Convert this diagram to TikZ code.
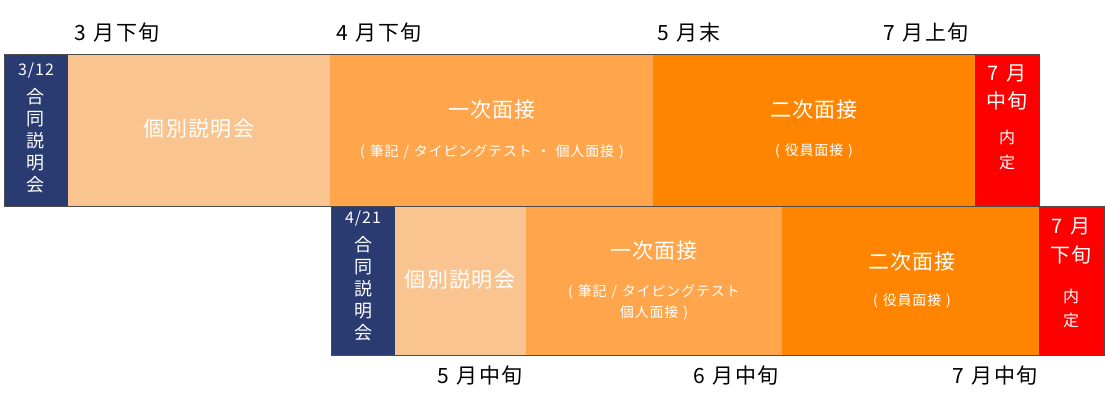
\documentclass[tikz,border=0pt]{standalone}
\usepackage{fontspec}
\setmainfont[LetterSpace=6]{Noto Sans CJK JP}
\definecolor{navy}{HTML}{293B70}
\definecolor{peach}{HTML}{F9C48F}
\definecolor{lorange}{HTML}{FFA54C}
\definecolor{dorange}{HTML}{FF8500}
\definecolor{redc}{HTML}{FF0000}
\newcommand{\gap}{\hspace{0.35em}}
\tikzset{
  blk/.style={anchor=north west, inner sep=0pt, outer sep=0pt},
  wt/.style={text=white, inner sep=0pt, align=center},
  lbl/.style={text=black, inner sep=0pt, font=\fontsize{21}{24}\selectfont},
  big/.style={wt, font=\fontsize{21}{25}\selectfont},
  sub/.style={wt, font=\fontsize{14}{21}\selectfont},
  vert/.style={wt, font=\fontsize{18}{22}\selectfont},
  date/.style={wt, font=\fontsize{16}{18}\selectfont},
  frame/.style={draw=black!70, line width=0.8pt}
}
\begin{document}
\begin{tikzpicture}[x=1pt,y=-1pt]
\useasboundingbox (0,0) rectangle (1108,406);
% top row blocks
\node[blk, fill=navy,    minimum width=64pt,  minimum height=152pt] (a1) at (4,54) {};
\node[blk, fill=peach,   minimum width=262pt, minimum height=152pt] (a2) at (68,54) {};
\node[blk, fill=lorange, minimum width=323pt, minimum height=152pt] (a3) at (330,54) {};
\node[blk, fill=dorange, minimum width=322pt, minimum height=152pt] (a4) at (653,54) {};
\node[blk, fill=redc,    minimum width=64pt,  minimum height=152pt] (a5) at (975,54) {};
\node[frame, blk, minimum width=1035pt, minimum height=152pt] (af) at (4,54) {};
% bottom row blocks
\node[blk, fill=navy,    minimum width=64pt,  minimum height=149pt] (b1) at (331,206) {};
\node[blk, fill=peach,   minimum width=131pt, minimum height=149pt] (b2) at (395,206) {};
\node[blk, fill=lorange, minimum width=256pt, minimum height=149pt] (b3) at (526,206) {};
\node[blk, fill=dorange, minimum width=257pt, minimum height=149pt] (b4) at (782,206) {};
\node[blk, fill=redc,    minimum width=65pt,  minimum height=149pt] (b5) at (1039,206) {};
\node[frame, blk, minimum width=773pt, minimum height=149pt] (bf) at (331,206) {};
% top labels
\node[lbl] (t1) at (117,33) {3\gap 月下旬};
\node[lbl] (t2) at (379,33) {4\gap 月下旬};
\node[lbl] (t3) at (689,33) {5\gap 月末};
\node[lbl] (t4) at (926,33) {7\gap 月上旬};
% bottom labels
\node[lbl] (u1) at (480,376) {5\gap 月中旬};
\node[lbl] (u2) at (736,376) {6\gap 月中旬};
\node[lbl] (u3) at (995,376) {7\gap 月中旬};
% top row texts
\node[date] (a1d) at (36,71) {3/12};
\node[vert] (a1t) at (36,141) {合\\同\\説\\明\\会};
\node[big] (a2t) at (199,129) {個別説明会};
\node[big] (a3t) at (492,110) {一次面接};
\node[sub] (a3s) at (492,152) {(\gap 筆記\gap /\gap タイピングテスト\gap ・\gap 個人面接\gap )};
\node[big] (a4t) at (814,110) {二次面接};
\node[sub] (a4s) at (814,151) {(\gap 役員面接\gap )};
\node[wt, font=\fontsize{20}{28}\selectfont] (a5t) at (1007,87) {7\gap 月\\中旬};
\node[wt, font=\fontsize{16}{25}\selectfont] (a5s) at (1007,150) {内\\定};
% bottom row texts
\node[date] (b1d) at (363,219) {4/21};
\node[vert] (b1t) at (363,289) {合\\同\\説\\明\\会};
\node[big] (b2t) at (460,280) {個別説明会};
\node[big] (b3t) at (654,251) {一次面接};
\node[sub] (b3s) at (654,302) {(\gap 筆記\gap /\gap タイピングテスト\\個人面接\gap )};
\node[big] (b4t) at (912,262) {二次面接};
\node[sub] (b4s) at (912,301) {(\gap 役員面接\gap )};
\node[wt, font=\fontsize{20}{29}\selectfont] (b5t) at (1071,241) {7\gap 月\\下旬};
\node[wt, font=\fontsize{16}{24}\selectfont] (b5s) at (1071,308) {内\\定};
\end{tikzpicture}
\end{document}
